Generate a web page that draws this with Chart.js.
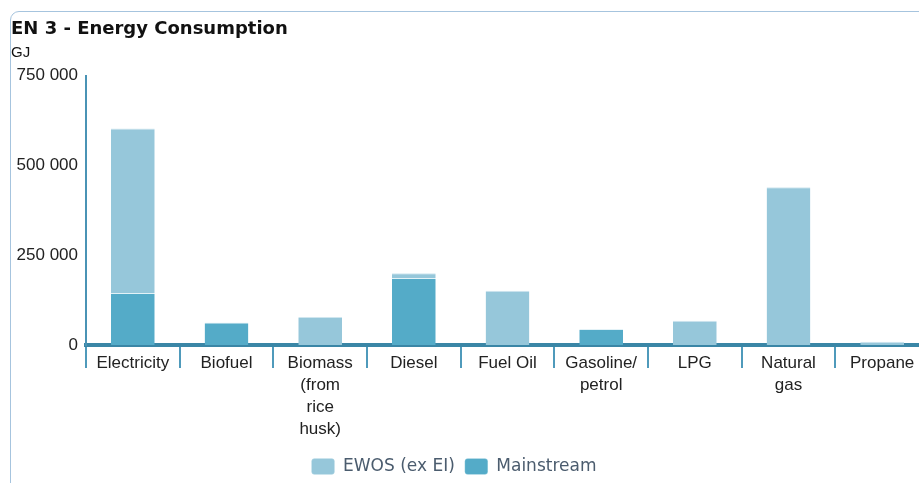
<!DOCTYPE html>
<html>
<head>
<meta charset="utf-8">
<script src="https://cdn.jsdelivr.net/npm/chart.js@4.4.1/dist/chart.umd.min.js"></script>
<style>
  html, body { margin: 0; padding: 0; overflow: hidden; background: #fff; width: 919px; height: 483px; }
  #frame { position: absolute; left: 10px; top: 11px; width: 1000px; height: 600px; border: 1px solid #a6c4de; border-radius: 9px; box-sizing: border-box; }
  #wrap { position: absolute; left: 0; top: 0; width: 940px; height: 483px; }
</style>
</head>
<body>
<div id="frame"></div>
<div id="wrap"><canvas id="c" width="940" height="483"></canvas></div>
<script>
// ---- data ----
const titleText = 'EN 3 - Energy Consumption';
const unitText = 'GJ';
const categories = ['Electricity', 'Biofuel', ['Biomass', '(from', 'rice', 'husk)'], 'Diesel', 'Fuel Oil', ['Gasoline/', 'petrol'], 'LPG', ['Natural', 'gas'], 'Propane'];
const seriesNames = ['EWOS (ex EI)', 'Mainstream'];
const ewos = [458000, null, 77700, 13100, 150700, null, 67400, 439200, 9200];
const mainstream = [145000, 62700, null, 186700, null, 44400, null, null, null];
const yTicks = [0, 250000, 500000, 750000];

const EWOS_COLOR = '#96c7da';
const MAIN_COLOR = '#54abc8';
const AXIS_COLOR = '#3a86a6';

const legendShift = {
  id: 'legendShift',
  beforeDraw(chart) {
    const dx = -16;
    if (chart.legend && !chart.legend._shifted) {
      chart.legend.left += dx;
      chart.legend.right += dx;
      chart.legend._shifted = true;
    }
  }
};

new Chart(document.getElementById('c'), {
  type: 'bar',
  data: {
    labels: categories,
    datasets: [
      { label: seriesNames[1], data: mainstream, backgroundColor: MAIN_COLOR, borderColor: '#e3f2f7', borderWidth: { top: 1 }, borderSkipped: 'start' },
      { label: seriesNames[0], data: ewos, backgroundColor: EWOS_COLOR, borderColor: '#cfe6ef', borderWidth: { top: 1 }, borderSkipped: 'start' }
    ]
  },
  plugins: [legendShift],
  options: {
    responsive: false,
    animation: false,
    devicePixelRatio: 1,
    layout: { padding: { left: 11, right: 11, top: 0, bottom: -2 } },
    datasets: { bar: { categoryPercentage: 1, barPercentage: 0.467 } },
    plugins: {
      tooltip: { enabled: false },
      title: {
        display: true, text: titleText, align: 'start', color: '#111',
        font: { family: 'DejaVu Sans', size: 18, weight: 'bold', lineHeight: 1.2 },
        padding: { top: 19, bottom: 0 }
      },
      subtitle: {
        display: true, text: unitText, align: 'start', color: '#111',
        font: { family: 'Liberation Sans', size: 15, lineHeight: 1.2 },
        padding: { top: 3, bottom: 14 }
      },
      legend: {
        position: 'bottom', reverse: true,
        labels: {
          boxWidth: 23, boxHeight: 16, padding: 10, useBorderRadius: true, borderRadius: 3,
          color: '#4b5c6e', font: { family: 'DejaVu Sans', size: 17 }
        }
      }
    },
    scales: {
      x: {
        stacked: true, z: 1,
        grid: { offset: true, drawOnChartArea: false, drawTicks: true, tickLength: 23, color: '#4f9abb', lineWidth: 2 },
        border: { display: true, color: AXIS_COLOR, width: 4 },
        ticks: { color: '#222', font: { family: 'Liberation Sans', size: 17, lineHeight: 1.3 }, padding: -16, maxRotation: 0, autoSkip: false },
        afterFit(s) { s.height = 103; }
      },
      y: {
        stacked: true, min: 0, max: 750000,
        afterBuildTicks(s) { s.ticks = yTicks.map(v => ({ value: v })); },
        grid: { display: false, drawTicks: false },
        border: { display: true, color: '#4a93b5', width: 2 },
        ticks: {
          color: '#222', padding: 8, font: { family: 'Liberation Sans', size: 17 },
          callback: v => v.toLocaleString('en-US').replace(/,/g, ' ')
        },
        afterFit(s) { s.width = 75; }
      }
    }
  }
});
</script>
</body>
</html>
